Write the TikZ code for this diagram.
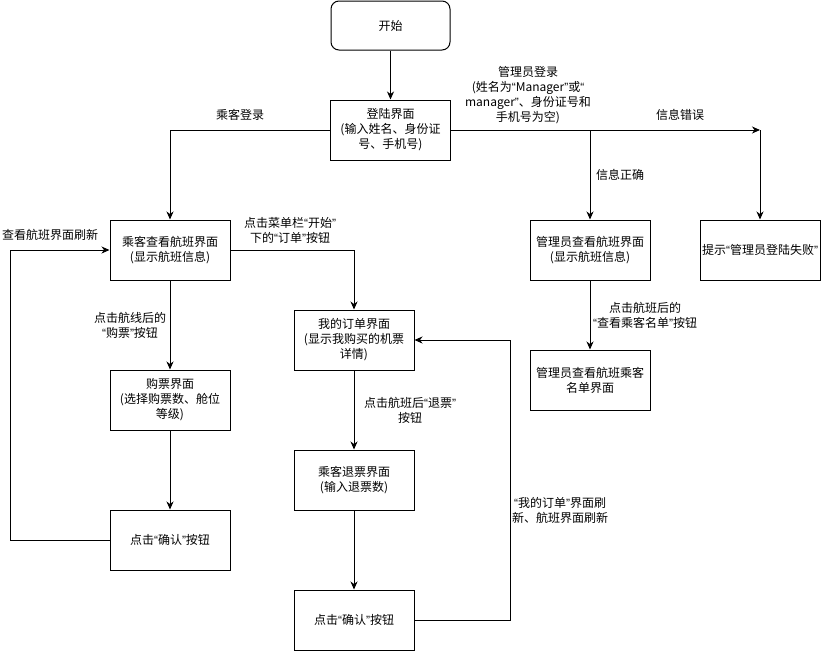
\documentclass[tikz,border=0pt]{standalone}
\usepackage{fontspec}
\setmainfont{Noto Sans CJK SC}
\newfontfamily\qfont{Liberation Sans}
\newcommand\qo{{\qfont “}}
\newcommand\qc{{\qfont ”}}
\usetikzlibrary{arrows.meta}
\tikzset{
  box/.style={draw, line width=1pt, minimum width=120pt, minimum height=60pt, inner sep=0pt, align=center, font=\fontsize{12}{15}\selectfont},
  conn/.style={line width=1pt, -{Stealth[length=8pt, width=7pt, inset=2.5pt]}},
  lbl/.style={align=center, inner sep=0pt, font=\fontsize{12}{15}\selectfont}
}
\begin{document}
\begin{tikzpicture}[x=1pt, y=-1pt]
\useasboundingbox (0,0) rectangle (821,651);
% nodes
\node[box, rounded corners=8pt, minimum width=119pt, minimum height=49pt] (start) at (390.5,25.5) {开始};
\node[box] (login) at (390.5,130) {登陆界面\\(输入姓名、身份证\\号、手机号)};
\node[box] (pview) at (170,250) {乘客查看航班界面\\(显示航班信息)};
\node[box] (buy) at (170,400) {购票界面\\(选择购票数、舱位\\等级)};
\node[box] (conf1) at (170,540) {点击\qo 确认\qc 按钮};
\node[box] (order) at (354,340) {我的订单界面\\(显示我购买的机票\\详情)};
\node[box] (refund) at (354,480) {乘客退票界面\\(输入退票数)};
\node[box] (conf2) at (354,620) {点击\qo 确认\qc 按钮};
\node[box] (aview) at (590,250) {管理员查看航班界面\\(显示航班信息)};
\node[box] (alist) at (590,380) {管理员查看航班乘客\\名单界面};
\node[box] (fail) at (760,250) {提示\qo 管理员登陆失败\qc};
\coordinate (err) at (760,130);
\coordinate (ok) at (590,130);
\coordinate (loopL) at (10,540);
\coordinate (loopR) at (510,620);
% connectors
\draw[conn] (start) -- (login);
\draw[conn] (login.west) -| (pview.north);
\draw[conn] (login.east) -- (err);
\draw[conn] (err) -- (fail.north);
\draw[conn] (ok) -- (aview.north);
\draw[conn] (pview.east) -| (order.north);
\draw[conn] (pview) -- (buy);
\draw[conn] (buy) -- (conf1);
\draw[conn] (conf1.west) -- (loopL) |- (pview.west);
\draw[conn] (order) -- (refund);
\draw[conn] (refund) -- (conf2);
\draw[conn] (conf2.east) -- (loopR) |- (order.east);
\draw[conn] (aview) -- (alist);
% labels
\node[lbl] (l1) at (240,115) {乘客登录};
\node[lbl] (l2) at (528,95) {管理员登录\\(姓名为\qo Manager\qc 或\qo\\manager\qc 、身份证号和\\手机号为空)};
\node[lbl] (l3) at (680,115) {信息错误};
\node[lbl] (l4) at (620,175) {信息正确};
\node[lbl] (l5) at (290,230) {点击菜单栏\qo 开始\qc\\下的\qo 订单\qc 按钮};
\node[lbl] (l6) at (50,235) {查看航班界面刷新};
\node[lbl] (l7) at (130,325) {点击航线后的\\\qo 购票\qc 按钮};
\node[lbl] (l8) at (410,410) {点击航班后\qo 退票\qc\\按钮};
\node[lbl] (l9) at (560,510) {\qo 我的订单\qc 界面刷\\新、航班界面刷新};
\node[lbl] (l10) at (645,315) {点击航班后的\\\qo 查看乘客名单\qc 按钮};
\end{tikzpicture}
\end{document}
